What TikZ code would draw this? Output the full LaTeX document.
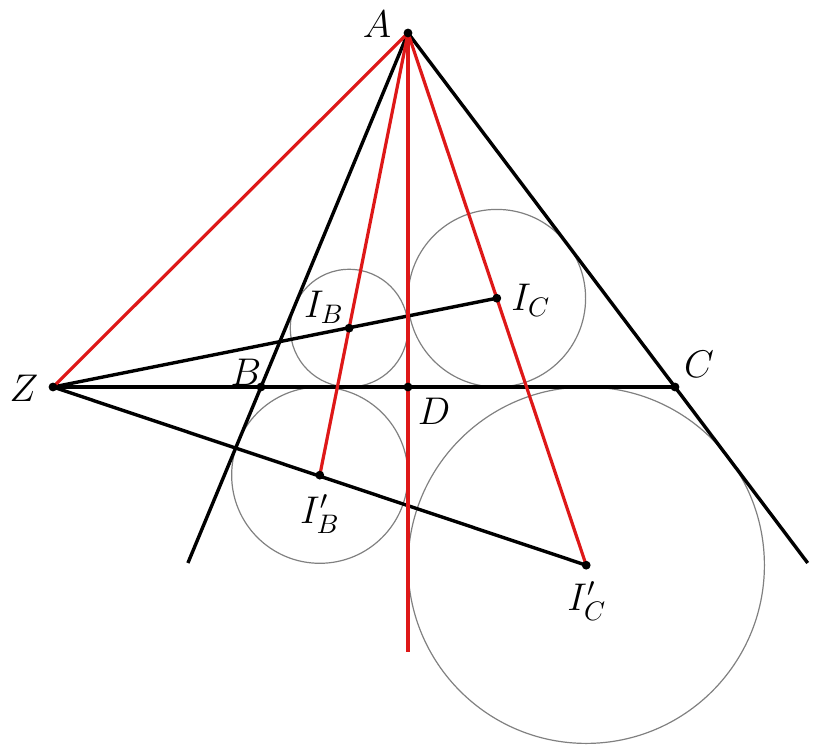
\documentclass[tikz,border=0pt]{standalone}
\definecolor{myred}{RGB}{222,24,24}
\definecolor{mygray}{RGB}{128,128,128}
\begin{document}
\begin{tikzpicture}[x=0.5pt,y=-0.5pt,
  blk/.style={draw=black,line width=1.7pt},
  redl/.style={draw=myred,line width=1.6pt},
  circ/.style={draw=mygray,line width=0.6pt},
  dot/.style={circle,fill=black,inner sep=0pt,minimum size=4.4pt},
  lbl/.style={inner sep=0pt,font=\Large,scale=1.34,transform shape}]
\useasboundingbox (0,0) rectangle (818,755);
% points
\coordinate (A) at (408,33);
\coordinate (B) at (261,387);
\coordinate (C) at (675,387);
\coordinate (D) at (408,387);
\coordinate (Z) at (53,387);
\coordinate (IB) at (349.15,328.15);
\coordinate (IC) at (496.8,298.2);
\coordinate (JB) at (319.8,475.15);
\coordinate (JC) at (586.2,565.2);
\coordinate (Bend) at (187.9,563);
\coordinate (Cend) at (807.7,563);
\coordinate (Dend) at (408,652);
% circles
\draw[circ] (IB) circle (58.85);
\draw[circ] (IC) circle (88.8);
\draw[circ] (JB) circle (88.15);
\draw[circ] (JC) circle (178.2);
% black lines
\draw[blk] (A) -- (Bend);
\draw[blk] (A) -- (Cend);
\draw[blk] (Z) -- (C);
\draw[blk] (Z) -- (IC);
\draw[blk] (Z) -- (JC);
% red lines
\draw[redl] (A) -- (Z);
\draw[redl] (A) -- (Dend);
\draw[redl] (A) -- (JB);
\draw[redl] (A) -- (JC);
% dots
\foreach \p in {A,B,C,D,Z,IB,IC,JB,JC} \node[dot] (d\p) at (\p) {};
% labels
\node[lbl] (lA) at (377,24) {$A$};
\node[lbl] (lZ) at (24,388) {$Z$};
\node[lbl] (lB) at (246,372) {$B$};
\node[lbl] (lC) at (699,364) {$C$};
\node[lbl] (lD) at (434,411) {$D$};
\node[lbl] (lIB) at (324,307) {$I_B$};
\node[lbl] (lIC) at (531,300) {$I_C$};
\node[lbl] (lJB) at (320,514) {$I'_B$};
\node[lbl] (lJC) at (587,601) {$I'_C$};
\end{tikzpicture}
\end{document}
